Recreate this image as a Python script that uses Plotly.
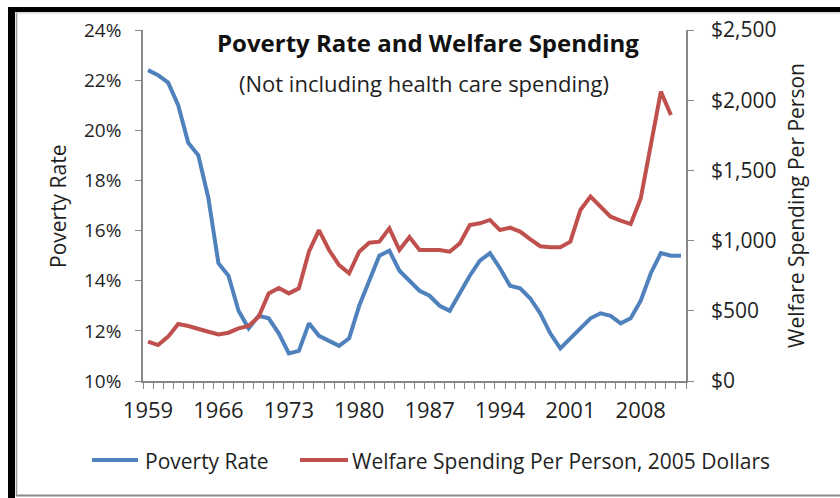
import plotly.graph_objects as go

# Calendar years shown on the category axis
years = list(range(1959, 2013))

# Official poverty rate, percent of population
poverty_rate = [
    22.4, 22.2, 21.9, 21.0, 19.5, 19.0, 17.3, 14.7, 14.2, 12.8,
    12.1, 12.6, 12.5, 11.9, 11.1, 11.2, 12.3, 11.8, 11.6, 11.4,
    11.7, 13.0, 14.0, 15.0, 15.2, 14.4, 14.0, 13.6, 13.4, 13.0,
    12.8, 13.5, 14.2, 14.8, 15.1, 14.5, 13.8, 13.7, 13.3, 12.7,
    11.9, 11.3, 11.7, 12.1, 12.5, 12.7, 12.6, 12.3, 12.5, 13.2,
    14.3, 15.1, 15.0, 15.0,
]

# Welfare spending per person in 2005 dollars (1959-2011)
welfare_spending = [
    280, 256, 316, 406, 392, 368, 351, 332, 344, 375,
    392, 458, 624, 662, 624, 660, 921, 1075, 933, 826,
    767, 921, 985, 992, 1087, 933, 1025, 933, 933, 933,
    921, 980, 1111, 1123, 1147, 1075, 1092, 1064, 1010, 960,
    952, 952, 992, 1218, 1313, 1242, 1170, 1142, 1118, 1301,
    1693, 2061, 1895,
]

left_ticks = [10, 12, 14, 16, 18, 20, 22, 24]
right_ticks = [0, 500, 1000, 1500, 2000, 2500]
year_labels = [1959, 1966, 1973, 1980, 1987, 1994, 2001, 2008]

W, H = 840, 498
ML, MR, MT, MB = 143, 154, 30, 117
PW, PH = W - ML - MR, H - MT - MB


def px(x):
    return (x - ML) / PW


def py(y):
    return (H - MB - y) / PH


BLUE = "#4F81BD"
RED = "#C0504D"
AXIS = "#878787"
TXT = "#1f1f1f"
FONT = "Open Sans"

fig = go.Figure()
fig.add_trace(go.Scatter(
    x=years, y=poverty_rate, mode="lines", name="Poverty Rate",
    line=dict(color=BLUE, width=4), showlegend=False,
))
fig.add_trace(go.Scatter(
    x=years[:len(welfare_spending)], y=welfare_spending, mode="lines",
    name="Welfare Spending Per Person, 2005 Dollars",
    line=dict(color=RED, width=4), yaxis="y2", showlegend=False,
))

fig.update_layout(
    width=W, height=H,
    margin=dict(l=ML, r=MR, t=MT, b=MB, pad=0),
    paper_bgcolor="white", plot_bgcolor="white",
    font=dict(family=FONT, color=TXT, size=16),
    xaxis=dict(
        range=[1958.5, 2012.5], tickmode="array", tickvals=year_labels,
        ticktext=[str(y) for y in year_labels], ticks="", showgrid=False,
        zeroline=False, showline=True, linecolor=AXIS, linewidth=1.5,
        tickfont=dict(size=22), ticklabelstandoff=9,
        minor=dict(tickmode="linear", tick0=1958.5, dtick=1, ticks="outside",
                   ticklen=6, tickcolor=AXIS, tickwidth=1, showgrid=False),
    ),
    yaxis=dict(
        range=[10, 24], tickmode="array", tickvals=left_ticks,
        ticktext=[f"{v}%" for v in left_ticks], ticks="outside", ticklen=6,
        tickcolor=AXIS, showgrid=False, zeroline=False, showline=True,
        linecolor=AXIS, linewidth=1.5, tickfont=dict(size=19),
        ticklabelstandoff=10,
    ),
    yaxis2=dict(
        range=[0, 2500], overlaying="y", side="right", tickmode="array",
        tickvals=right_ticks,
        ticktext=["$0"] + [f"${v:,}" for v in right_ticks[1:]],
        ticks="outside", ticklen=6, tickcolor=AXIS, showgrid=False,
        zeroline=False, showline=True, linecolor=AXIS, linewidth=1.5,
        tickfont=dict(size=21), ticklabelstandoff=13,
    ),
)


def note(x, y, text, size, **kw):
    d = dict(xref="paper", yref="paper", x=px(x), y=py(y), text=text,
             font=dict(size=size), showarrow=False, xanchor="center",
             yanchor="middle")
    d.update(kw)
    return d


ann = [
    # Titles inside the plot area
    note(428, 42, "<b>Poverty Rate and Welfare Spending</b>", 24,
         font=dict(size=24, color="#111")),
    note(424, 83, "(Not including health care spending)", 22),
    # Axis titles
    note(58, 206, "Poverty Rate", 21, textangle=-90),
    note(796, 206, "Welfare Spending Per Person", 21, textangle=-90),
    # Legend entries
    note(143, 461, "Poverty Rate", 21, xanchor="left"),
    note(350, 461, "Welfare Spending Per Person, 2005 Dollars", 21,
         xanchor="left"),
]

shapes = []
for x0, x1, c in [(92, 138, BLUE), (300, 348, RED)]:
    shapes.append(dict(type="line", xref="paper", yref="paper",
                       x0=px(x0), x1=px(x1), y0=py(460), y1=py(460),
                       line=dict(color=c, width=4)))
# Frame around the chart
shapes.append(dict(type="rect", xref="paper", yref="paper", x0=px(8), x1=px(15),
                   y0=py(7), y1=py(498), fillcolor="black", line=dict(width=0),
                   layer="above"))
shapes.append(dict(type="rect", xref="paper", yref="paper", x0=px(8), x1=px(840),
                   y0=py(7), y1=py(12), fillcolor="black", line=dict(width=0),
                   layer="above"))
shapes.append(dict(type="line", xref="paper", yref="paper", x0=px(16.5), x1=px(16.5),
                   y0=py(12), y1=py(496), line=dict(color="#9a9a9a", width=1.5)))
shapes.append(dict(type="line", xref="paper", yref="paper", x0=px(16), x1=px(840),
                   y0=py(13), y1=py(13), line=dict(color="#c8c8c8", width=1)))
shapes.append(dict(type="line", xref="paper", yref="paper", x0=px(16), x1=px(840),
                   y0=py(495.5), y1=py(495.5), line=dict(color="#8a8a8a", width=2)))

fig.update_layout(annotations=ann, shapes=shapes)
fig.write_html("out.html")
